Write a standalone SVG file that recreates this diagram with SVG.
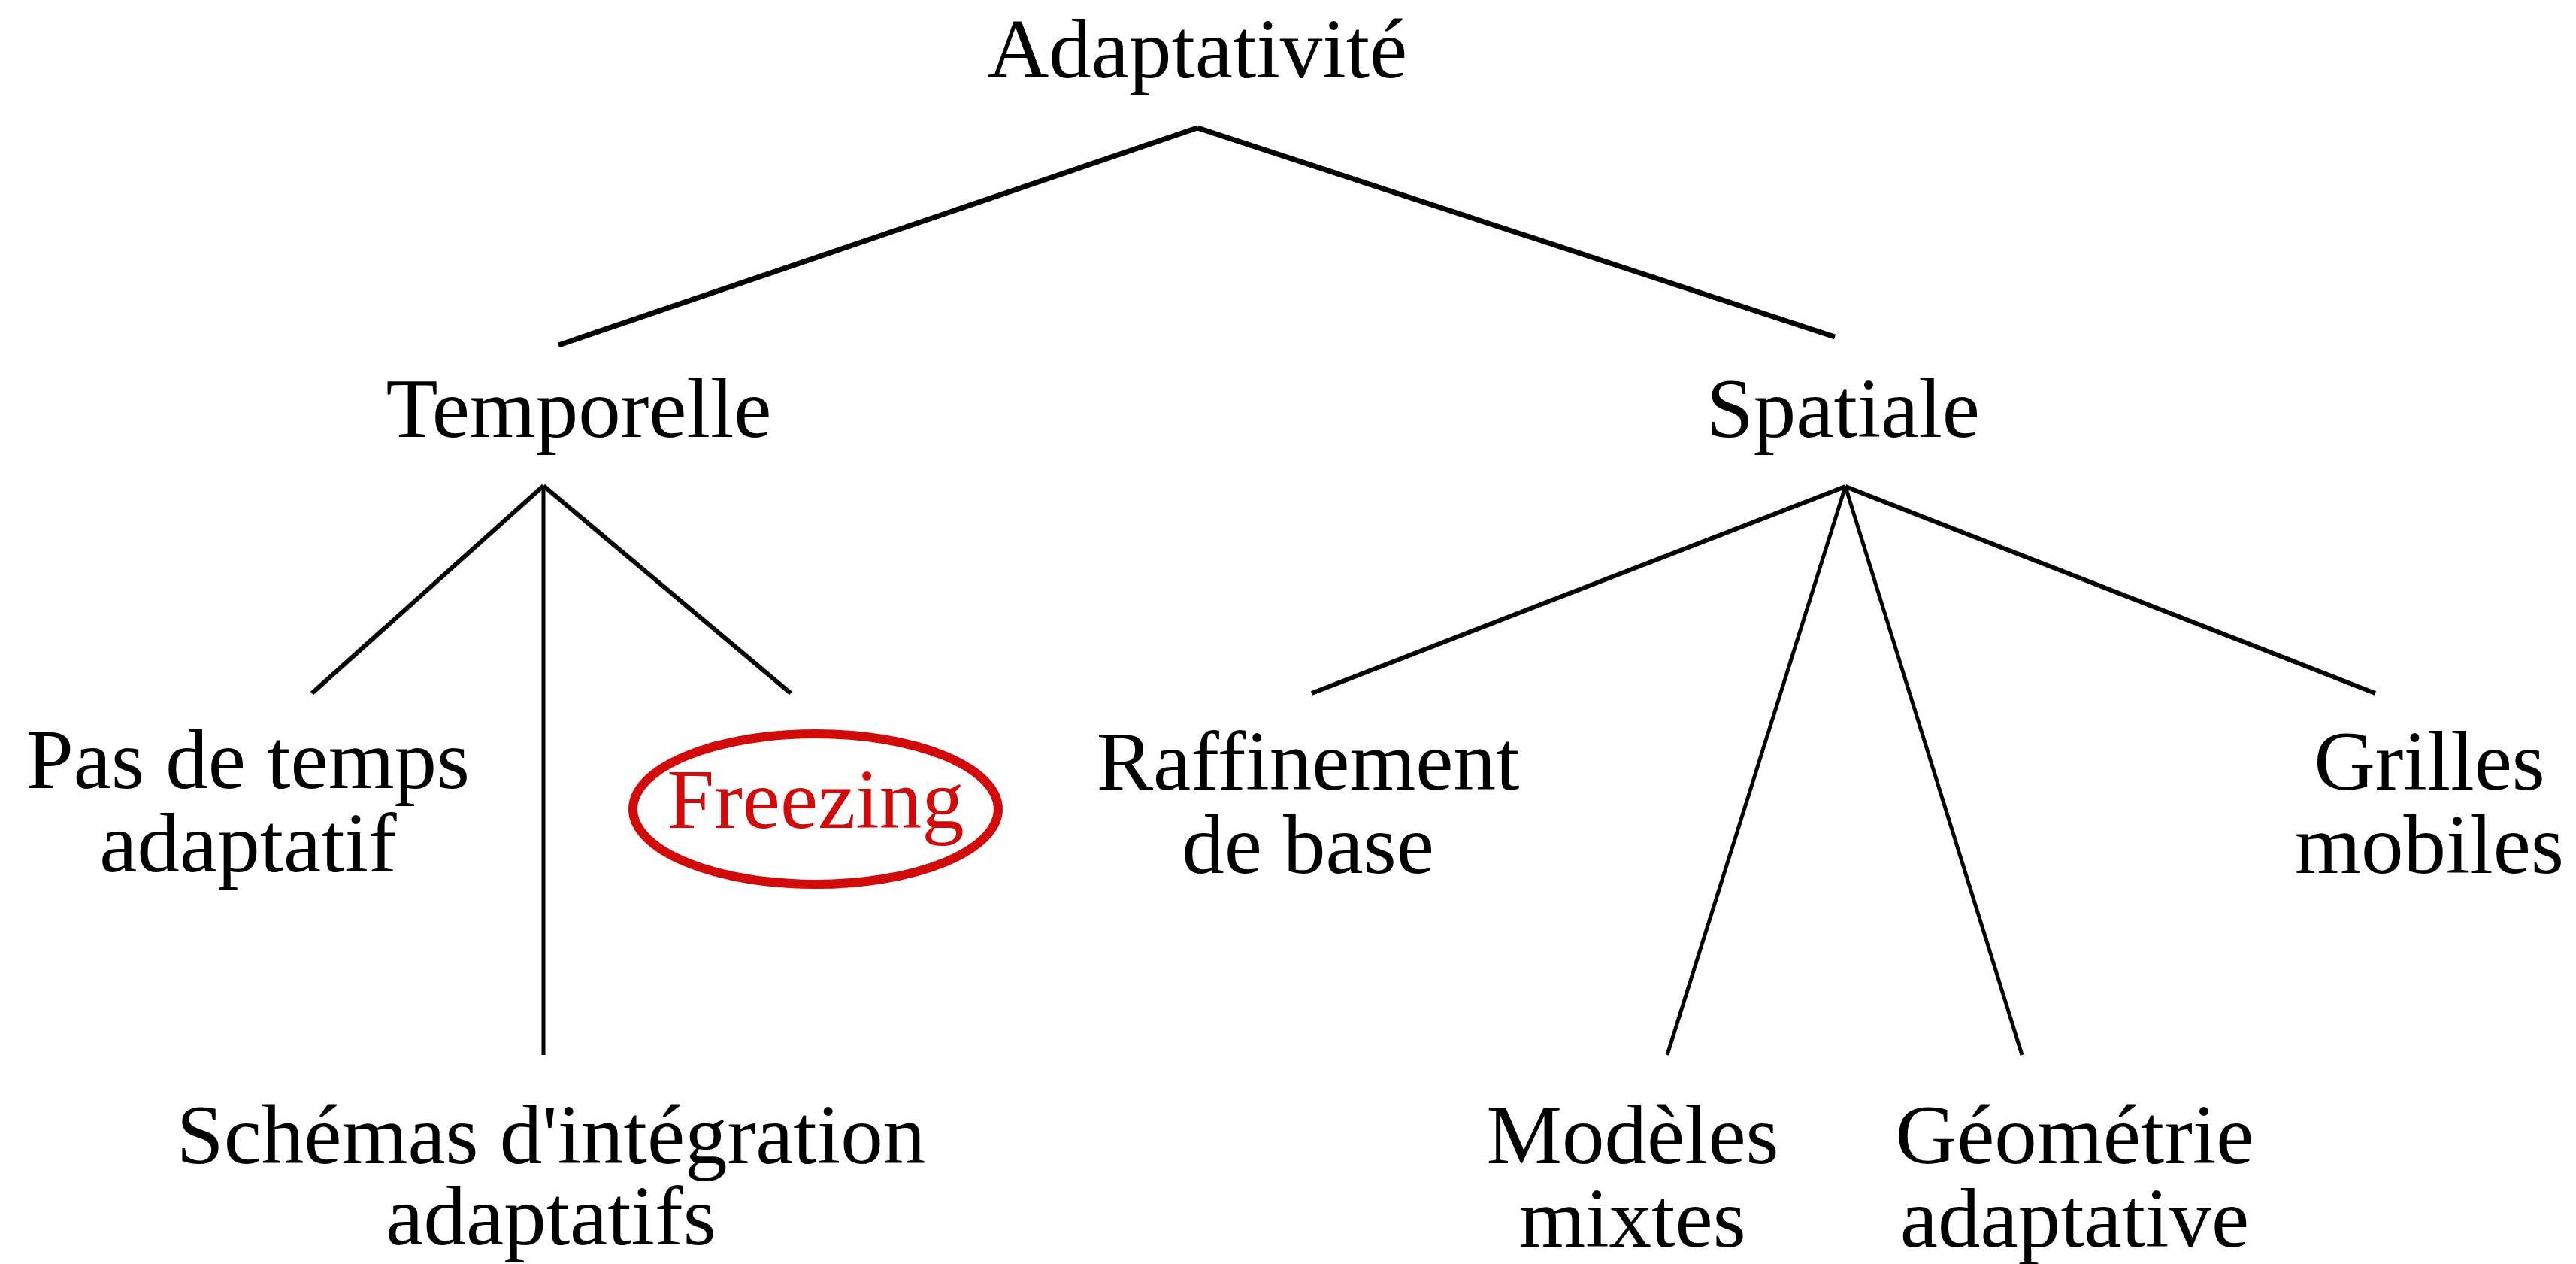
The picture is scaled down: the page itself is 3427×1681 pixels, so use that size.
<svg xmlns="http://www.w3.org/2000/svg" width="3427" height="1681" viewBox="0 0 3427 1681">
<style>
text{font-family:"Liberation Serif","Times New Roman",serif;font-size:113px;fill:#000;text-anchor:middle}
.red{fill:#d20a0a}
.c{stroke:#000;stroke-width:6;fill:none;stroke-linecap:butt}
.top{stroke-width:7}
.t{stroke-width:5}
</style>
<rect width="3427" height="1681" fill="#fff"/>
<g id="connectors">
<line class="c top" x1="1593" y1="170" x2="743" y2="459"/>
<line class="c top" x1="1593" y1="170" x2="2441" y2="448"/>
<line class="c" x1="723" y1="646" x2="415" y2="922"/>
<line class="c t" x1="723" y1="646" x2="723" y2="1403"/>
<line class="c" x1="723" y1="646" x2="1052" y2="922"/>
<line class="c" x1="2455" y1="647" x2="1745" y2="922"/>
<line class="c t" x1="2455" y1="647" x2="2218" y2="1403"/>
<line class="c t" x1="2455" y1="647" x2="2690" y2="1403"/>
<line class="c" x1="2455" y1="647" x2="3160" y2="922"/>
</g>
<g id="adaptativite"><text x="1593" y="103">Adaptativité</text></g>
<g id="temporelle"><text x="770" y="581">Temporelle</text></g>
<g id="spatiale"><text x="2452" y="581">Spatiale</text></g>
<g id="pas-de-temps"><text x="330" y="1048">Pas de temps<tspan x="330" dy="111">adaptatif</tspan></text></g>
<g id="freezing"><ellipse cx="1085" cy="1076" rx="243" ry="100" fill="none" stroke="#d20a0a" stroke-width="12"/><text class="red" x="1085" y="1101">Freezing</text></g>
<g id="raffinement"><text x="1740" y="1050">Raffinement<tspan x="1740" dy="111">de base</tspan></text></g>
<g id="grilles"><text x="3232" y="1050">Grilles<tspan x="3232" dy="111">mobiles</tspan></text></g>
<g id="schemas"><text x="733" y="1547">Schémas d'intégration<tspan x="733" dy="108">adaptatifs</tspan></text></g>
<g id="modeles"><text x="2172" y="1547">Modèles<tspan x="2172" dy="111">mixtes</tspan></text></g>
<g id="geometrie"><text x="2760" y="1547">Géométrie<tspan x="2760" dy="111">adaptative</tspan></text></g>
</svg>
